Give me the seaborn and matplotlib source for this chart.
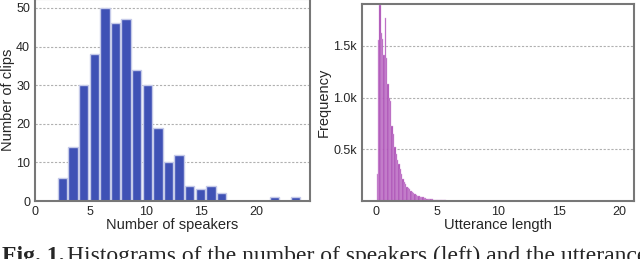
import numpy as np
import pandas as pd
import matplotlib
matplotlib.use("Agg")
import matplotlib.pyplot as plt
import seaborn as sns
from matplotlib.ticker import FuncFormatter

# ---- data ----
speakers = [2, 3, 4, 5, 6, 7, 8, 9, 10, 11, 12, 13, 14, 15, 16, 17, 22, 24]
clips = [6, 14, 30, 38, 50, 46, 47, 34, 30, 19, 10, 12, 4, 3, 4, 2, 1, 1]

utt_len = [0.11, 0.22, 0.33, 0.44, 0.55, 0.66, 0.77, 0.88, 0.99, 1.10,
           1.21, 1.32, 1.43, 1.54, 1.65, 1.76, 1.87, 1.98, 2.09, 2.20,
           2.31, 2.42, 2.53, 2.64, 2.75, 2.86, 2.97, 3.08, 3.19, 3.30,
           3.41, 3.52, 3.63, 3.74, 3.85, 3.96, 4.07, 4.18, 4.29, 4.40,
           4.51, 4.62, 4.73, 4.84, 4.95, 5.06, 5.17, 5.28, 5.39, 5.50,
           5.61, 5.72, 5.83, 5.94, 6.05, 6.16, 6.27, 6.38, 6.49, 6.60]
utt_freq = [260, 1560, 1900, 1620, 1570, 1410, 1770, 1380, 1130, 1000,
            970, 730, 650, 520, 450, 400, 360, 310, 260, 210,
            180, 160, 140, 130, 120, 100, 85, 75, 65, 58,
            52, 47, 42, 38, 34, 30, 27, 24, 21, 19,
            17, 15, 13, 12, 11, 10, 9, 8, 7, 6,
            5, 5, 4, 4, 3, 3, 2, 2, 2, 2]

left_xticks = [0, 5, 10, 15, 20]
left_yticks = [0, 10, 20, 30, 40, 50]
right_xticks = [0, 5, 10, 15, 20]
right_yticks = [500, 1000, 1500]

df_s = pd.DataFrame({"speakers": speakers, "clips": clips})
df_u = pd.DataFrame({"length": utt_len, "freq": utt_freq})

sns.set_style("white")
plt.rcParams["font.family"] = ["Liberation Sans", "DejaVu Sans"]

fig = plt.figure(figsize=(6.4, 2.59), dpi=100)
W, H = 640, 259
def ax_rect(x0, y0, x1, y1):
    return [x0 / W, 1 - y1 / H, (x1 - x0) / W, (y1 - y0) / H]

ax1 = fig.add_axes(ax_rect(35, -1, 310, 201))
ax2 = fig.add_axes(ax_rect(362, 4, 634, 201))

spine_col = "#777777"
grid_kw = dict(color="#b0b0b0", linestyle=(0, (2, 1.5)), linewidth=0.8)

sns.histplot(data=df_s, x="speakers", weights="clips", bins=23, binrange=(2, 24),
             color="#3f51b5", alpha=1.0, edgecolor="#c5cae9", linewidth=1.0,
             shrink=0.88, ax=ax1)
ax1.set_xlim(0, 24.8)
ax1.set_ylim(0, 52.3)
ax1.set_xticks(left_xticks)
ax1.set_yticks(left_yticks)
ax1.set_xlabel("Number of speakers", fontsize=10.5, labelpad=0)
ax1.set_ylabel("Number of clips", fontsize=10.5, labelpad=1)

sns.histplot(data=df_u, x="length", weights="freq", binwidth=0.11, binrange=(0.055, 6.655),
             color="#a13aac", alpha=0.9, edgecolor="#d9a6de", linewidth=0.3, ax=ax2)
ax2.set_xlim(-1.16, 21.2)
ax2.set_ylim(0, 1905)
ax2.set_xticks(right_xticks)
ax2.set_yticks(right_yticks)
ax2.yaxis.set_major_formatter(FuncFormatter(lambda v, p: f"{v/1000:.1f}k"))
ax2.set_xlabel("Utterance length", fontsize=10.5, labelpad=0)
ax2.set_ylabel("Frequency", fontsize=10.5, labelpad=2)

for ax in (ax1, ax2):
    ax.set_axisbelow(True)
    ax.yaxis.grid(True, **grid_kw)
    ax.xaxis.grid(False)
    for s in ax.spines.values():
        s.set_color(spine_col)
        s.set_linewidth(1.5)
    ax.tick_params(axis="both", labelsize=9, length=2, width=0.8, color=spine_col, pad=1.5)

cap_y = 1 - 262 / H
fig.text(2 / W, cap_y, "Fig. 1.", fontsize=17, fontweight="bold",
         family=["Liberation Serif", "DejaVu Serif"], ha="left", va="baseline")
fig.text(67 / W, cap_y, "Histograms of the number of speakers (left) and the utterance",
         fontsize=17, family=["Liberation Serif", "DejaVu Serif"], ha="left", va="baseline")

fig.savefig("out.png", dpi=100)
